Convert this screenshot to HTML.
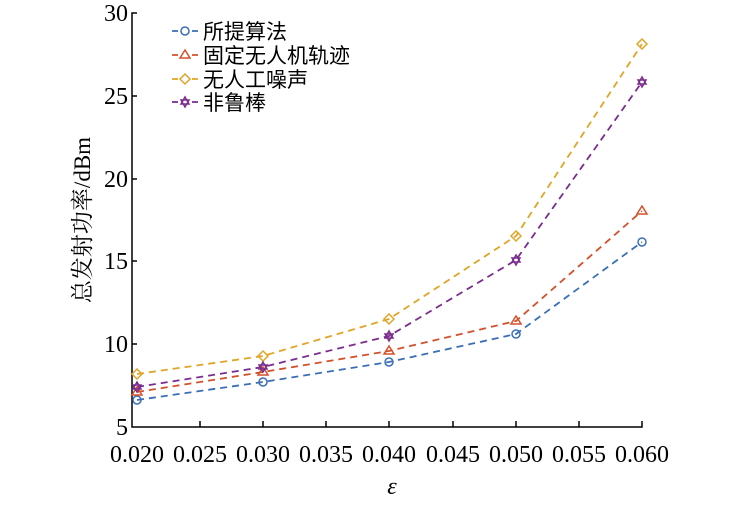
<!DOCTYPE html><html><head><meta charset="utf-8"><style>body{margin:0;background:#fff}</style></head><body>
<svg width="736" height="500" xmlns="http://www.w3.org/2000/svg" font-family="'Liberation Serif','Noto Serif CJK SC',serif">
<g stroke="#000" stroke-width="1.5" fill="none">
<path d="M137,13 H132 V427 H642 V421"/>
<path d="M132,96 h5 M132,179 h5 M132,261 h5 M132,344 h5"/>
<path d="M200,427 v-6 M263,427 v-6 M326,427 v-6 M389,427 v-6 M453,427 v-6 M516,427 v-6 M579,427 v-6"/>
</g>
<g font-size="24" text-anchor="end">
<text x="128" y="21">30</text><text x="128" y="104">25</text><text x="128" y="187">20</text><text x="128" y="269">15</text><text x="128" y="352">10</text><text x="128" y="435">5</text>
</g>
<g font-size="24" text-anchor="middle">
<text x="137" y="462">0.020</text><text x="200" y="462">0.025</text><text x="263" y="462">0.030</text><text x="326" y="462">0.035</text><text x="389" y="462">0.040</text><text x="453" y="462">0.045</text><text x="516" y="462">0.050</text><text x="579" y="462">0.055</text><text x="642" y="462">0.060</text>
<text x="392" y="494" font-style="italic">ε</text>
</g>
<text transform="translate(90,220) rotate(-90)" font-size="23" text-anchor="middle">总发射功率/dBm</text>
<g fill="none" stroke-width="1.8" stroke-dasharray="7,5">
<polyline stroke="#3a6fb5" points="137,400 263,382 389,362 516,334 642,242"/>
<polyline stroke="#d4502a" points="137,392 263,372 389,351 516,321 642,211"/>
<polyline stroke="#e0a526" points="137,374 263,356 389,319 516,236 642,44"/>
<polyline stroke="#7b2d8e" points="137,387 263,367 389,336 516,260 642,82"/>
</g>
<g fill="none" stroke-width="1.5">
<g stroke="#3a6fb5"><circle cx="137" cy="400" r="4"/><circle cx="263" cy="382" r="4"/><circle cx="389" cy="362" r="4"/><circle cx="516" cy="334" r="4"/><circle cx="642" cy="242" r="4"/><circle cx="185" cy="31" r="4"/></g>
<g stroke="#d4502a"><path d="M137,387 l5,8 h-10z M263,367 l5,8 h-10z M389,346 l5,8 h-10z M516,316 l5,8 h-10z M642,206 l5,8 h-10z M185,50 l5,8 h-10z"/></g>
<g stroke="#e0a526"><path d="M137,369 l5,5 -5,5 -5,-5z M263,351 l5,5 -5,5 -5,-5z M389,314 l5,5 -5,5 -5,-5z M516,231 l5,5 -5,5 -5,-5z M642,39 l5,5 -5,5 -5,-5z M185,74 l5,5 -5,5 -5,-5z"/></g>
<g stroke="#7b2d8e"><path d="M137,382 l4,7 h-8z M137,392 l4,-7 h-8z M263,362 l4,7 h-8z M263,372 l4,-7 h-8z M389,331 l4,7 h-8z M389,341 l4,-7 h-8z M516,255 l4,7 h-8z M516,265 l4,-7 h-8z M642,77 l4,7 h-8z M642,87 l4,-7 h-8z M185,97 l4,7 h-8z M185,107 l4,-7 h-8z"/></g>
</g>
<g stroke-width="1.8">
<path d="M172,31 h6 M192,31 h6" stroke="#3a6fb5"/><path d="M172,55 h6 M192,55 h6" stroke="#d4502a"/><path d="M172,79 h6 M192,79 h6" stroke="#e0a526"/><path d="M172,102 h6 M192,102 h6" stroke="#7b2d8e"/>
</g>
<g font-size="21" font-family="'Liberation Sans','Noto Sans CJK SC',sans-serif">
<text x="203" y="39">所提算法</text><text x="203" y="63">固定无人机轨迹</text><text x="203" y="87">无人工噪声</text><text x="203" y="110">非鲁棒</text>
</g>
</svg></body></html>
